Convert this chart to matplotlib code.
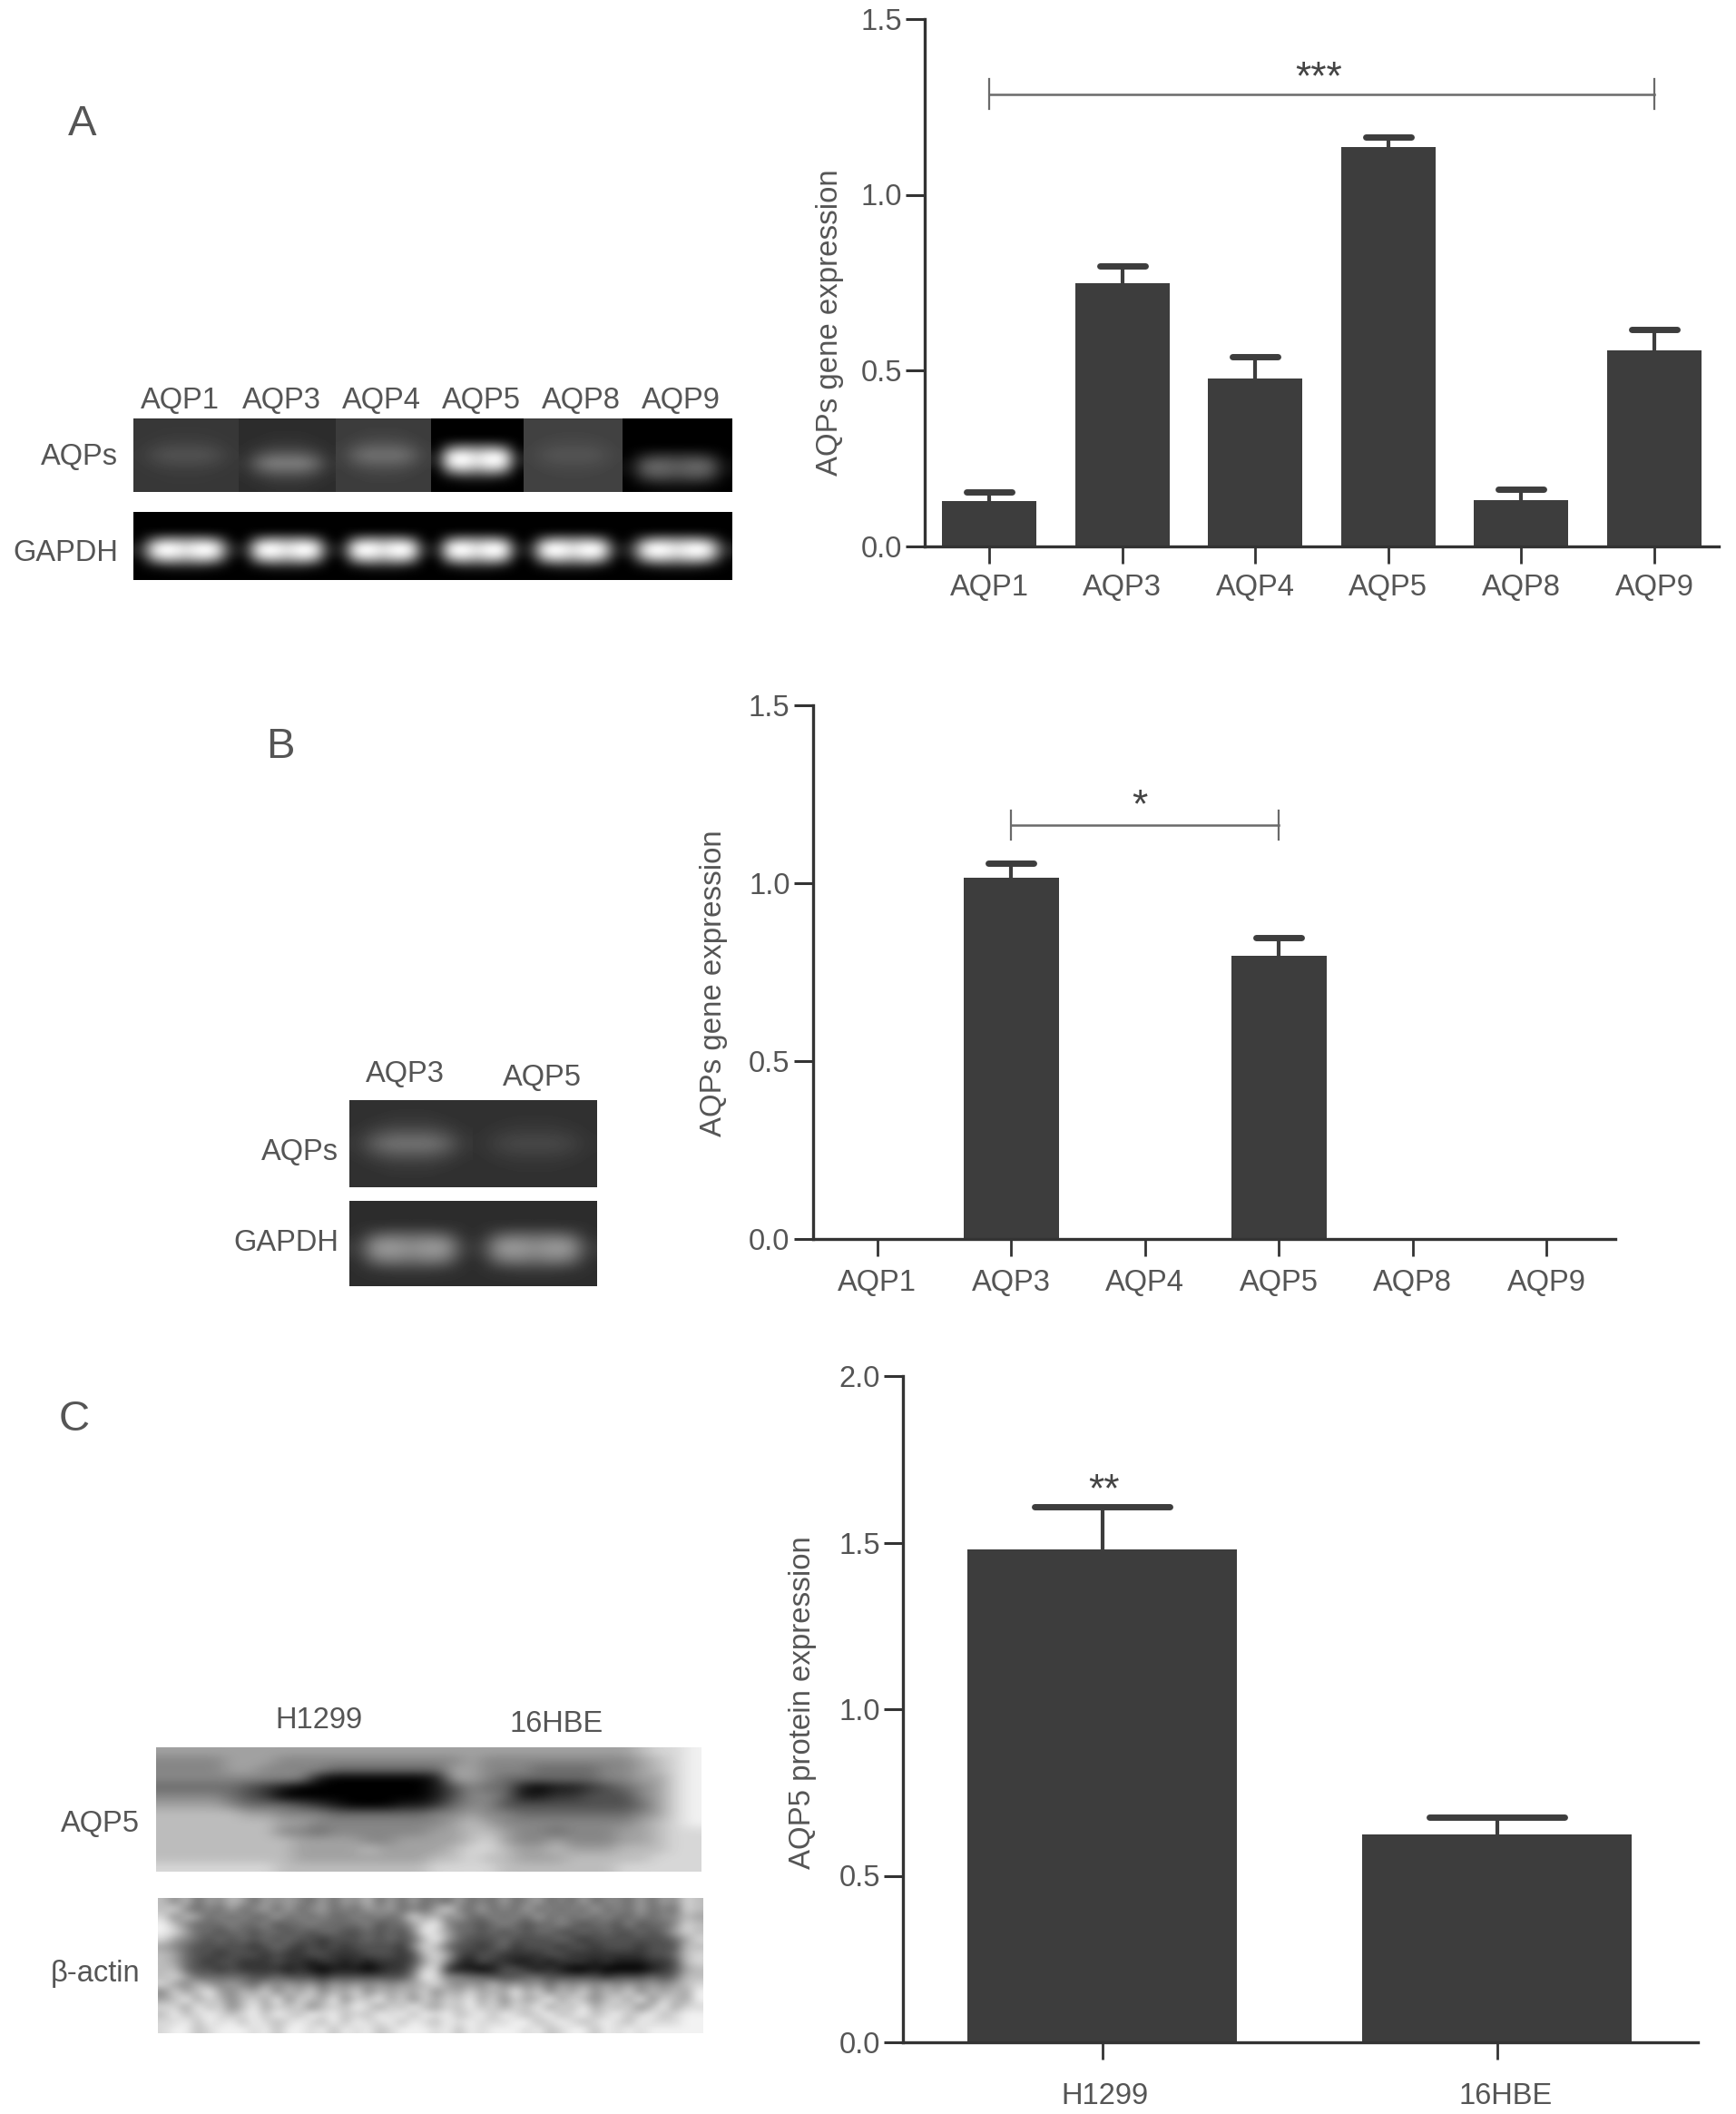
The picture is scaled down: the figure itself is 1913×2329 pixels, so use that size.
import numpy as np
import matplotlib
matplotlib.use("Agg")
import matplotlib.pyplot as plt
from matplotlib.transforms import ScaledTranslation

plt.rcParams["font.family"] = ["Liberation Sans", "DejaVu Sans"]

W, H = 1913, 2329
TEXT = "#555555"
DARK = "#333333"
BAR = "#3d3d3d"
BRACKET = "#6a6a6a"

# chart values
genes = ["AQP1", "AQP3", "AQP4", "AQP5", "AQP8", "AQP9"]
a_values = [0.127, 0.747, 0.476, 1.135, 0.130, 0.556]
a_tops = [0.155, 0.797, 0.539, 1.165, 0.161, 0.616]
b_values = [0, 1.015, 0, 0.795, 0, 0]
b_tops = [0, 1.057, 0, 0.848, 0, 0]
cells = ["H1299", "16HBE"]
c_values = [1.48, 0.623]
c_tops = [1.607, 0.676]

# gel band shapes, fraction of the lane's peak brightness
SHARP = np.array([
    [0, 0, 0, 0, 0, 0, 0],
    [0, 0, 0, 0, 0, 0, 0],
    [0, 0, 0, 0, 0, 0, 0],
    [0, .4, .5, .45, .5, .4, 0],
    [.1, .95, 1, .85, 1, .95, .1],
    [.1, .95, 1, .85, 1, .95, .1],
    [0, .5, .6, .5, .6, .5, 0],
    [0, .05, .1, .1, .1, .05, 0],
    [0, 0, 0, 0, 0, 0, 0],
])
SOFT = np.array([
    [0, 0, 0, 0, 0, 0, 0],
    [0, 0, .05, .05, .05, 0, 0],
    [0, .1, .2, .2, .2, .1, 0],
    [.05, .4, .6, .6, .6, .4, .05],
    [.1, .7, 1, .95, 1, .7, .1],
    [.05, .4, .6, .6, .6, .4, .05],
    [0, .1, .2, .2, .2, .1, 0],
    [0, 0, .05, .05, .05, 0, 0],
    [0, 0, 0, 0, 0, 0, 0],
])

# lane background, band peak above background, row shift
a_lane_edges = [147, 263, 370, 475, 577, 686, 807]
a_lanes = [(55, 28, 0, SOFT), (45, 85, 1, SOFT), (60, 55, 0, SOFT),
           (0, 255, 0, SHARP), (65, 20, 0, SOFT), (0, 100, 1, SHARP)]
a_gapdh = [(0, 255, 0, SHARP)] * 6
b_lane_edges = [385, 521, 658]
b_lanes = [(48, 70, 0, SOFT), (48, 25, 0, SOFT)]
b_gapdh = [(45, 105, 0, SHARP)] * 2

# western blots as gray levels, 0 black to 9 white
blot_aqp5 = [
    "66666666 66666666 66666666 66667889",
    "55556665 55555555 55655555 55556789",
    "55556655 55444444 46655544 44556789",
    "55555555 51000000 16654444 44556689",
    "44444321 00000000 13544101 12345689",
    "55554320 00000000 13554112 23335689",
    "66665444 32100011 24553333 33334689",
    "77777665 55444444 55655444 44445689",
    "77777776 65555555 56765555 55556789",
    "77777775 54555555 66776554 55566788",
    "77777777 66665566 66786556 55566788",
    "77777777 66667666 67887667 66677788",
    "77777777 66666666 77877666 77777888",
    "88888887 77777777 88887777 77788888",
]
blot_actin = [
    "75746576 46565464 65746464 54645464 56454645 54646587",
    "78545464 56464564 54656454 68546454 64545464 54645487",
    "85764545 44645454 45454586 75644545 46454545 44545576",
    "97544454 45344544 44534468 95443454 34454344 35344587",
    "98644344 34434344 33434359 86443434 34433434 33434687",
    "86543434 34343323 33434347 96433343 33343233 33333468",
    "65433333 23432323 23333258 74332342 33323323 33233377",
    "76433233 32322332 22333237 86323322 22332222 22233478",
    "76432332 22322122 12122236 85213221 12122212 11122378",
    "77433232 22212101 11012248 82110133 21210010 00012367",
    "78644444 33433323 33333359 85544333 44333332 33343477",
    "86576565 46565646 56565667 86565756 56465656 56565678",
    "58679657 68576857 68576768 57686769 68576857 68576769",
    "67968757 86958769 58796858 68796858 67968757 86958769",
    "88697857 96878578 79868797 68797868 79687968 78579688",
    "79789878 97987989 78798979 89789798 78978978 97897899",
    "88979897 98789879 79889798 79898889 97898789 87988899",
    "89978999 89799897 98978999 89798999 89789979 89899999",
]


def px_axes(fig, left, right, top, bottom):
    return fig.add_axes([left / W, 1 - bottom / H, (right - left) / W, (bottom - top) / H])


def draw_lanes(ax, edges, top, bottom, lanes):
    for i, (bg, peak, shift, band) in enumerate(lanes):
        img = bg + peak * np.roll(band, shift, axis=0)
        ax.imshow(img, cmap="gray", vmin=0, vmax=255, aspect="auto", interpolation="bicubic",
                  extent=(edges[i], edges[i + 1], bottom, top))


def draw_blot(ax, rows, left, right, top, bottom):
    img = np.array([[int(c) for c in r.replace(" ", "")] for r in rows])
    ax.imshow(img, cmap="gray", vmin=0, vmax=9.5, aspect="auto", interpolation="bicubic",
              extent=(left, right, bottom, top))


def bar_chart(fig, pos, xlim, labels, values, tops, ymax, yticks, width, cap, xpad=10):
    ax = px_axes(fig, *pos)
    x = np.arange(len(labels))
    ax.bar(x, values, width=width, color=BAR, zorder=2)
    vals = np.array(values)
    tops = np.array(tops)
    show = tops > vals
    ax.vlines(x[show], vals[show], tops[show], color=BAR, lw=3, zorder=1)
    ax.hlines(tops[show], x[show] - cap, x[show] + cap, color=BAR, lw=5, capstyle="round", zorder=1)
    ax.set_xlim(*xlim)
    ax.set_ylim(0, ymax)
    ax.set_xticks(x, labels)
    ax.set_yticks(yticks, [f"{t:.1f}" for t in yticks])
    ax.tick_params(axis="x", length=13.5, width=2, color=DARK, labelcolor=TEXT, labelsize=23.5, pad=xpad)
    ax.tick_params(axis="y", length=15, width=2.2, color=DARK, labelcolor=TEXT, labelsize=23.5, pad=3)
    for side in ["top", "right"]:
        ax.spines[side].set_visible(False)
    for side in ["left", "bottom"]:
        ax.spines[side].set_linewidth(2.4)
        ax.spines[side].set_color(DARK)
    ax.patch.set_alpha(0)
    return ax


def bracket(ax, x0, x1, y, tick, stars, star_x, star_y):
    ax.plot([x0, x1], [y, y], color=BRACKET, lw=1.8)
    ax.plot([x0, x0], [y - tick, y + tick], color=BRACKET, lw=1.6)
    ax.plot([x1, x1], [y - tick, y + tick], color=BRACKET, lw=1.6)
    ax.text(star_x, star_y, stars, ha="center", va="center", fontsize=32, color="#444444")


fig = plt.figure(figsize=(W / 100, H / 100), dpi=100, facecolor="white")

# overlay in pixel coordinates for blots and free labels
page = fig.add_axes([0, 0, 1, 1])

draw_lanes(page, a_lane_edges, 461, 542, a_lanes)
draw_lanes(page, a_lane_edges, 564, 639, a_gapdh)
draw_lanes(page, b_lane_edges, 1212, 1308, b_lanes)
draw_lanes(page, b_lane_edges, 1323, 1417, b_gapdh)
draw_blot(page, blot_aqp5, 172, 773, 1925, 2062)
draw_blot(page, blot_actin, 174, 775, 2091, 2240)

page.set_xlim(0, W)
page.set_ylim(H, 0)
page.axis("off")


def label(x, y, s, ha="center", size=23.5, rotation=0):
    page.text(x, y + 3, s, ha=ha, va="center", fontsize=size, color=TEXT, rotation=rotation)


for name, x in zip(genes, [198, 310, 420, 530, 640, 750]):
    label(x, 438, name)
label(130, 500, "AQPs", ha="right")
label(130, 607, "GAPDH", ha="right")

label(446, 1180, "AQP3")
label(597, 1184, "AQP5")
label(373, 1267, "AQPs", ha="right")
label(373, 1366, "GAPDH", ha="right")

label(351, 1892, "H1299")
label(613, 1897, "16HBE")
label(154, 2007, "AQP5", ha="right")
label(154, 2172, "β-actin", ha="right")

label(91, 134, "A", size=34)
label(309, 820, "B", size=34)
label(82, 1561, "C", size=34)

label(915, 352, "AQPs gene expression", size=23.8, rotation=90)
label(786, 1080, "AQPs gene expression", size=23.8, rotation=90)
label(885, 1873, "AQP5 protein expression", size=23.8, rotation=90)

ax_a = bar_chart(fig, (1019, 1894, 21, 601.5), (-0.485, 5.485), genes, a_values, a_tops,
                 1.5, [0, 0.5, 1.0, 1.5], 0.71, 0.17, xpad=8.5)
bracket(ax_a, 0, 5, 1.286, 0.043, "***", 2.48, 1.33)

ax_b = bar_chart(fig, (895.5, 1780, 777, 1365), (-0.484, 5.514), genes, b_values, b_tops,
                 1.5, [0, 0.5, 1.0, 1.5], 0.71, 0.17, xpad=10)
bracket(ax_b, 1, 3, 1.163, 0.04, "*", 1.96, 1.215)

ax_c = bar_chart(fig, (995, 1871, 1516, 2250), (-0.505, 1.509), cells, c_values, c_tops,
                 2.0, [0, 0.5, 1.0, 1.5, 2.0], 0.683, 0.172, xpad=18)
ax_c.text(0.005, 1.655, "**", ha="center", va="center", fontsize=32, color="#444444")
for tick_label, dx in zip(ax_c.get_xticklabels(), [3, 10]):
    tick_label.set_transform(tick_label.get_transform() + ScaledTranslation(dx / 100, 0, fig.dpi_scale_trans))

fig.savefig("out.png", dpi=100)
plt.close(fig)
